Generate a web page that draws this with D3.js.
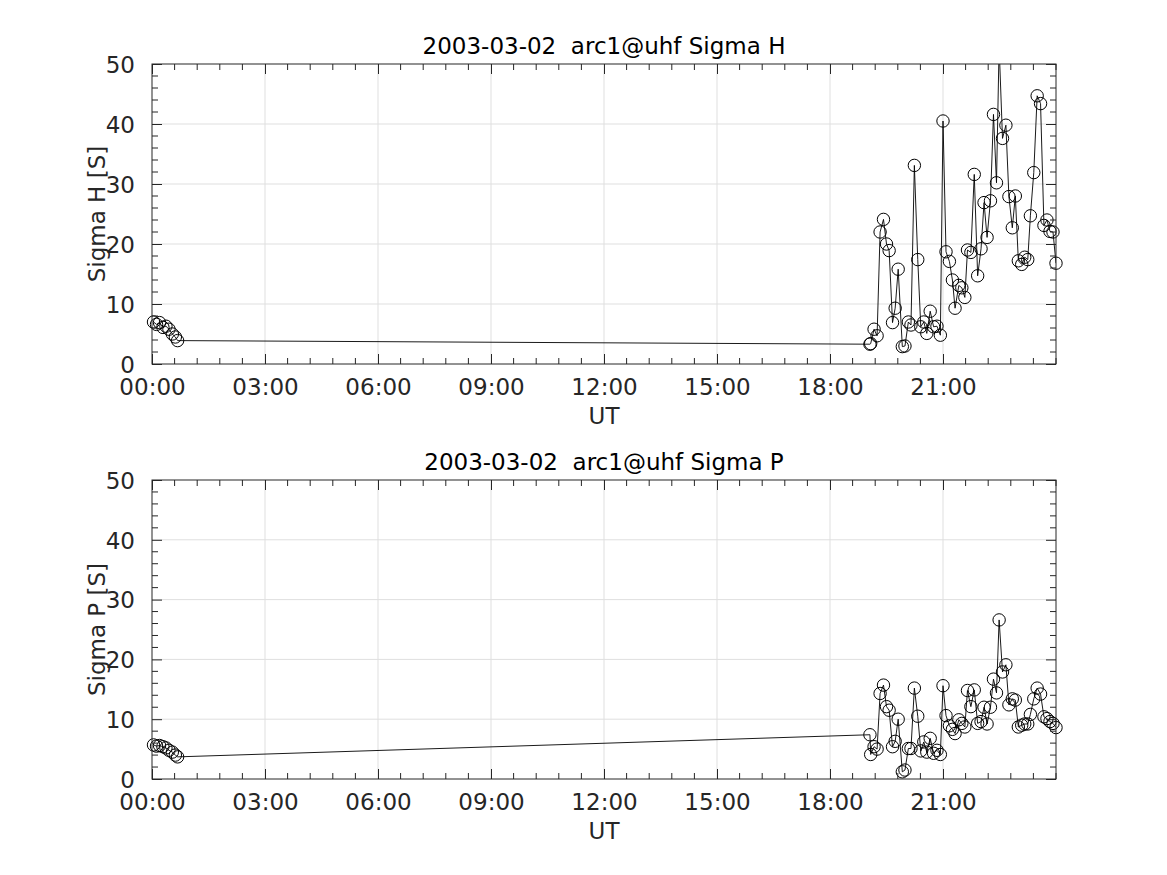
<!DOCTYPE html>
<html>
<head>
<meta charset="utf-8">
<script src="https://cdn.jsdelivr.net/npm/d3@7"></script>
<style>
  body { margin: 0; background: #fff; }
  svg text { font-family: "DejaVu Sans", sans-serif; white-space: pre; }
</style>
</head>
<body>
<div id="chart"></div>
<script>
// morning block (hours UT)
var tMorning = [0.04, 0.12, 0.20, 0.29, 0.37, 0.45, 0.54, 0.62, 0.68];
// evening block (hours UT)
var tEvening = [19.06, 19.08, 19.17, 19.25, 19.33, 19.42, 19.50, 19.57, 19.66, 19.73,
  19.81, 19.92, 19.99, 20.08, 20.15, 20.24, 20.33, 20.41, 20.49, 20.57,
  20.66, 20.75, 20.84, 20.93, 21.00, 21.08, 21.17, 21.25, 21.32, 21.42,
  21.50, 21.58, 21.65, 21.74, 21.83, 21.92, 22.01, 22.09, 22.17, 22.26,
  22.34, 22.42, 22.49, 22.58, 22.67, 22.75, 22.84, 22.92, 23.00, 23.09,
  23.17, 23.25, 23.32, 23.41, 23.50, 23.59, 23.68, 23.76, 23.84, 23.92, 24.00];

var sigmaH_morning = [7.0, 6.6, 6.9, 6.1, 6.3, 5.8, 5.0, 4.5, 3.9];
var sigmaH_evening = [3.3, 3.4, 5.8, 4.7, 22.0, 24.1, 20.0, 18.9, 6.9, 9.3,
  15.8, 2.9, 3.0, 7.0, 6.5, 33.1, 17.4, 6.2, 7.0, 5.1,
  8.8, 6.2, 6.3, 4.8, 40.5, 18.7, 17.1, 14.0, 9.3, 13.1,
  12.7, 11.1, 19.0, 18.6, 31.6, 14.7, 19.2, 26.9, 21.1, 27.2,
  41.6, 30.2, 53.0, 37.6, 39.8, 27.9, 22.7, 28.0, 17.2, 16.6,
  17.8, 17.4, 24.7, 31.9, 44.7, 43.4, 23.1, 24.0, 22.1, 22.0, 16.8];

var sigmaP_morning = [5.7, 5.5, 5.6, 5.4, 5.2, 4.8, 4.5, 4.0, 3.7];
var sigmaP_evening = [7.4, 4.1, 5.4, 5.0, 14.3, 15.7, 12.1, 11.5, 5.4, 6.3,
  10.0, 1.2, 1.5, 5.1, 5.1, 15.2, 10.5, 4.7, 6.2, 4.5,
  6.8, 4.3, 4.8, 4.1, 15.6, 10.6, 8.9, 8.3, 7.6, 9.9,
  9.3, 8.7, 14.8, 12.1, 14.9, 9.3, 9.6, 12.0, 9.2, 12.0,
  16.7, 14.4, 26.6, 17.9, 19.1, 12.4, 13.4, 13.2, 8.7, 9.0,
  9.2, 9.2, 10.8, 13.4, 15.2, 14.2, 10.4, 10.1, 9.6, 9.3, 8.6];

var xTicks = [0, 3, 6, 9, 12, 15, 18, 21];
var yTicks = [0, 10, 20, 30, 40, 50];

var width = 1167, height = 875;
var axColor = "#262626", gridColor = "#dfdfdf";
var fs = "23px";

var svg = d3.select("#chart").append("svg")
    .attr("width", width).attr("height", height);

var x = d3.scaleLinear().domain([0, 24]).range([152, 1056]);

function fmtHour(h) { return (h < 10 ? "0" : "") + h + ":00"; }

function panel(top, bottom, title, ylabel, tm, vm, te, ve, id) {
  var y = d3.scaleLinear().domain([0, 50]).range([bottom, top]);
  var g = svg.append("g");

  // grid
  g.selectAll(".gx").data(xTicks.slice(1)).enter().append("line")
    .attr("x1", d => x(d)).attr("x2", d => x(d))
    .attr("y1", top).attr("y2", bottom)
    .attr("stroke", gridColor).attr("stroke-width", 1);
  g.selectAll(".gy").data(yTicks.slice(1, -1)).enter().append("line")
    .attr("x1", x(0)).attr("x2", x(24))
    .attr("y1", d => y(d)).attr("y2", d => y(d))
    .attr("stroke", gridColor).attr("stroke-width", 1);

  // data
  var pts = tm.map((t, i) => ({t: t, v: vm[i]}))
    .concat(te.map((t, i) => ({t: t, v: ve[i]})));

  g.append("clipPath").attr("id", "clip" + id)
    .append("rect").attr("x", x(0)).attr("y", top)
    .attr("width", x(24) - x(0)).attr("height", bottom - top);

  var line = d3.line().x(d => x(d.t)).y(d => y(d.v));
  g.append("path").datum(pts)
    .attr("clip-path", "url(#clip" + id + ")")
    .attr("d", line).attr("fill", "none")
    .attr("stroke", "#000").attr("stroke-width", 0.9);

  g.selectAll("circle").data(pts.filter(d => d.v <= 50)).enter().append("circle")
    .attr("cx", d => x(d.t)).attr("cy", d => y(d.v)).attr("r", 6.2)
    .attr("fill", "none").attr("stroke", "#000").attr("stroke-width", 1);

  // axes box with inward ticks
  var xa = d3.axisBottom(x).tickValues(xTicks).tickSizeInner(-10).tickSizeOuter(0)
    .tickFormat(fmtHour).tickPadding(15);
  var xg = g.append("g").attr("transform", "translate(0," + bottom + ")").call(xa);
  var xt = g.append("g").attr("transform", "translate(0," + top + ")")
    .call(d3.axisTop(x).tickValues(xTicks).tickSizeInner(-10).tickSizeOuter(0).tickFormat(""));
  var ya = d3.axisLeft(y).tickValues(yTicks).tickSizeInner(-10).tickSizeOuter(0).tickPadding(17);
  var yg = g.append("g").attr("transform", "translate(" + x(0) + ",0)").call(ya);
  var yr = g.append("g").attr("transform", "translate(" + x(24) + ",0)")
    .call(d3.axisRight(y).tickValues(yTicks).tickSizeInner(-10).tickSizeOuter(0).tickFormat(""));

  // minor ticks
  var xMinor = d3.range(0, 24.001, 0.6).filter(d => xTicks.indexOf(Math.round(d * 10) / 10) < 0);
  var yMinor = d3.range(0, 50.001, 2).filter(d => d % 10 !== 0);
  xMinor.forEach(function(d) {
    g.append("line").attr("x1", x(d)).attr("x2", x(d)).attr("y1", bottom).attr("y2", bottom - 6)
      .attr("stroke", axColor);
    g.append("line").attr("x1", x(d)).attr("x2", x(d)).attr("y1", top).attr("y2", top + 6)
      .attr("stroke", axColor);
  });
  yMinor.forEach(function(d) {
    g.append("line").attr("x1", x(0)).attr("x2", x(0) + 6).attr("y1", y(d)).attr("y2", y(d))
      .attr("stroke", axColor);
    g.append("line").attr("x1", x(24)).attr("x2", x(24) - 6).attr("y1", y(d)).attr("y2", y(d))
      .attr("stroke", axColor);
  });

  g.append("rect").attr("x", x(0)).attr("y", top)
    .attr("width", x(24) - x(0)).attr("height", bottom - top)
    .attr("fill", "none").attr("stroke", axColor).attr("stroke-width", 1);

  [xg, xt, yg, yr].forEach(function(a) {
    a.select(".domain").remove();
    a.selectAll(".tick line").attr("stroke", axColor);
    a.selectAll(".tick text").attr("fill", axColor).style("font-size", fs);
  });
  yg.selectAll(".tick text").attr("dy", "0.36em");

  g.append("text").attr("x", (x(0) + x(24)) / 2).attr("y", top - 10)
    .attr("text-anchor", "middle").style("font-size", fs).attr("fill", "#000")
    .text(title);
  g.append("text").attr("x", (x(0) + x(24)) / 2).attr("y", bottom + 60)
    .attr("text-anchor", "middle").style("font-size", fs).attr("fill", axColor)
    .text("UT");
  g.append("text")
    .attr("transform", "translate(105," + (top + bottom) / 2 + ") rotate(-90)")
    .attr("text-anchor", "middle").style("font-size", fs).attr("fill", axColor)
    .text(ylabel);
}

panel(64, 364, "2003-03-02  arc1@uhf Sigma H", "Sigma H [S]",
  tMorning, sigmaH_morning, tEvening, sigmaH_evening, "h");
panel(480, 779, "2003-03-02  arc1@uhf Sigma P", "Sigma P [S]",
  tMorning, sigmaP_morning, tEvening, sigmaP_evening, "p");
</script>
</body>
</html>
